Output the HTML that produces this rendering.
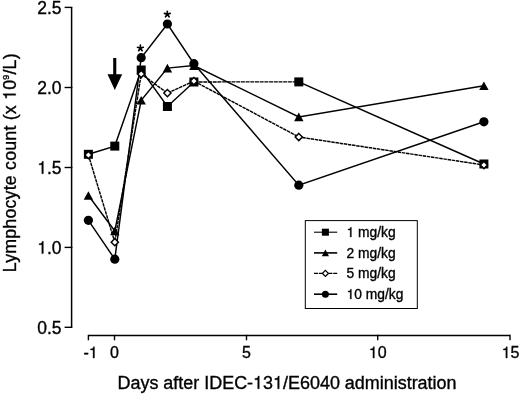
<!DOCTYPE html>
<html><head><meta charset="utf-8"><title>Lymphocyte count</title>
<style>
html,body{margin:0;padding:0;background:#fff;width:520px;height:394px;overflow:hidden}
svg{display:block;will-change:transform}
text{font-family:"Liberation Sans",sans-serif;fill:#000;stroke:#000;stroke-width:0.35px}
.h1{fill:none;stroke:none}
.one path{fill:#000;stroke:#000}
</style></head><body>
<svg width="520" height="394" viewBox="0 0 520 394">

<path d="M71.6,7.4V327.3" stroke="#000" stroke-width="1.5" fill="none"/>
<path d="M64.6,7.4H72.35" stroke="#000" stroke-width="1.4" fill="none"/>
<path d="M64.6,87.5H72.35" stroke="#000" stroke-width="1.4" fill="none"/>
<path d="M64.6,167.5H72.35" stroke="#000" stroke-width="1.4" fill="none"/>
<path d="M64.6,247.4H72.35" stroke="#000" stroke-width="1.4" fill="none"/>
<path d="M64.6,327.3H72.35" stroke="#000" stroke-width="1.4" fill="none"/>
<path d="M88.4,335.5H510.0" stroke="#000" stroke-width="1.5" fill="none"/>
<path d="M88.4,334.8V340.3" stroke="#000" stroke-width="1.4" fill="none"/>
<path d="M114.5,334.8V340.3" stroke="#000" stroke-width="1.4" fill="none"/>
<path d="M246.5,334.8V340.3" stroke="#000" stroke-width="1.4" fill="none"/>
<path d="M377.7,334.8V340.3" stroke="#000" stroke-width="1.4" fill="none"/>
<path d="M510.0,334.8V340.3" stroke="#000" stroke-width="1.4" fill="none"/>
<polyline points="88.4,154.3 114.8,146.1 141.2,70.0 167.4,106.5 193.9,82.0" fill="none" stroke="#000" stroke-width="1.45"/>
<path d="M193.9,82.0L298.8,81.9" fill="none" stroke="#000" stroke-width="1.3" stroke-dasharray="4 0.7"/>
<path d="M298.8,81.9L483.9,164.0" fill="none" stroke="#000" stroke-width="1.45"/>
<polyline points="88.4,195.5 114.8,231.0 141.2,100.3 167.4,68.1 193.9,65.6 298.8,116.9 483.9,85.8" fill="none" stroke="#000" stroke-width="1.45"/>
<polyline points="88.4,220.3 114.8,259.2 141.2,57.7 167.4,24.0 193.9,63.7 298.8,185.2 483.9,121.8" fill="none" stroke="#000" stroke-width="1.45"/>
<polyline points="88.4,155.0 114.8,242.2 141.2,74.0 167.4,93.1 193.9,81.1 298.8,137.0 483.9,165.0" fill="none" stroke="#000" stroke-width="1.45" stroke-dasharray="3.5 0.7"/>
<rect x="83.90" y="149.80" width="9.00" height="9.00" fill="#000"/>
<rect x="110.30" y="141.60" width="9.00" height="9.00" fill="#000"/>
<rect x="136.70" y="65.50" width="9.00" height="9.00" fill="#000"/>
<rect x="162.90" y="102.00" width="9.00" height="9.00" fill="#000"/>
<rect x="189.40" y="77.50" width="9.00" height="9.00" fill="#000"/>
<rect x="294.30" y="77.40" width="9.00" height="9.00" fill="#000"/>
<rect x="479.40" y="159.50" width="9.00" height="9.00" fill="#000"/>
<polygon points="88.40,191.20 93.10,199.80 83.70,199.80" fill="#000"/>
<polygon points="114.80,226.70 119.50,235.30 110.10,235.30" fill="#000"/>
<polygon points="141.20,96.00 145.90,104.60 136.50,104.60" fill="#000"/>
<polygon points="167.40,63.80 172.10,72.40 162.70,72.40" fill="#000"/>
<polygon points="193.90,61.30 198.60,69.90 189.20,69.90" fill="#000"/>
<polygon points="298.80,112.60 303.50,121.20 294.10,121.20" fill="#000"/>
<polygon points="483.90,81.50 488.60,90.10 479.20,90.10" fill="#000"/>
<circle cx="88.40" cy="220.30" r="4.6" fill="#000"/>
<circle cx="114.80" cy="259.20" r="4.6" fill="#000"/>
<circle cx="141.20" cy="57.70" r="4.6" fill="#000"/>
<circle cx="167.40" cy="24.00" r="4.6" fill="#000"/>
<circle cx="193.90" cy="63.70" r="4.6" fill="#000"/>
<circle cx="298.80" cy="185.20" r="4.6" fill="#000"/>
<circle cx="483.90" cy="121.80" r="4.6" fill="#000"/>
<polygon points="88.40,151.40 92.00,155.00 88.40,158.60 84.80,155.00" fill="#fff" stroke="#000" stroke-width="1.45"/>
<polygon points="114.80,238.60 118.40,242.20 114.80,245.80 111.20,242.20" fill="#fff" stroke="#000" stroke-width="1.45"/>
<polygon points="141.20,70.40 144.80,74.00 141.20,77.60 137.60,74.00" fill="#fff" stroke="#000" stroke-width="1.45"/>
<polygon points="167.40,89.50 171.00,93.10 167.40,96.70 163.80,93.10" fill="#fff" stroke="#000" stroke-width="1.45"/>
<polygon points="193.90,77.50 197.50,81.10 193.90,84.70 190.30,81.10" fill="#fff" stroke="#000" stroke-width="1.45"/>
<polygon points="298.80,133.40 302.40,137.00 298.80,140.60 295.20,137.00" fill="#fff" stroke="#000" stroke-width="1.45"/>
<polygon points="483.90,161.40 487.50,165.00 483.90,168.60 480.30,165.00" fill="#fff" stroke="#000" stroke-width="1.45"/>
<path d="M140.40,48.20L140.40,45.20M140.40,48.20L143.25,47.27M140.40,48.20L142.16,50.63M140.40,48.20L138.64,50.63M140.40,48.20L137.55,47.27" stroke="#000" stroke-width="1.7" stroke-linecap="round" fill="none"/>
<path d="M167.30,14.30L167.30,11.30M167.30,14.30L170.15,13.37M167.30,14.30L169.06,16.73M167.30,14.30L165.54,16.73M167.30,14.30L164.45,13.37" stroke="#000" stroke-width="1.7" stroke-linecap="round" fill="none"/>
<rect x="113.2" y="58" width="3.1" height="18" fill="#000"/>
<polygon points="107.5,74.3 122.2,74.3 114.8,90" fill="#000"/>
<rect x="305.3" y="220.6" width="112" height="87.9" fill="none" stroke="#000" stroke-width="1"/>
<path d="M314,232.2H337.2" stroke="#000" stroke-width="1.1"/>
<rect x="321.90" y="228.70" width="7.00" height="7.00" fill="#000"/>
<path d="M314,252.9H337.2" stroke="#000" stroke-width="1.6"/>
<polygon points="325.40,249.60 329.00,256.20 321.80,256.20" fill="#000"/>
<path d="M314,273.4H337.2" stroke="#000" stroke-width="1.1" stroke-dasharray="4 0.8"/>
<polygon points="325.40,270.40 328.40,273.40 325.40,276.40 322.40,273.40" fill="#fff" stroke="#000" stroke-width="1.3"/>
<path d="M314,294.2H337.2" stroke="#000" stroke-width="1.6"/>
<circle cx="325.40" cy="294.20" r="3.5" fill="#000"/>
<text id="t0" x="61.60" y="13.60" font-size="17.5" text-anchor="end">2.5</text>
<text id="t1" x="61.60" y="93.70" font-size="17.5" text-anchor="end">2.0</text>
<text id="t2" x="61.60" y="173.70" font-size="17.5" text-anchor="end"><tspan class="h1">1</tspan>.5</text>
<g class="one"><path transform="translate(37.27,173.70) scale(0.01750,-0.01750)" d="M347 0V709H289C258 600 238 585 102 568V505H259V0Z" stroke-width="20.00"/></g>
<text id="t3" x="61.60" y="253.60" font-size="17.5" text-anchor="end"><tspan class="h1">1</tspan>.0</text>
<g class="one"><path transform="translate(37.27,253.60) scale(0.01750,-0.01750)" d="M347 0V709H289C258 600 238 585 102 568V505H259V0Z" stroke-width="20.00"/></g>
<text id="t4" x="61.60" y="333.50" font-size="17.5" text-anchor="end">0.5</text>
<text id="t5" x="90.70" y="358.00" font-size="16" text-anchor="middle">-<tspan class="h1">1</tspan></text>
<g class="one"><path transform="translate(88.91,358.00) scale(0.01600,-0.01600)" d="M347 0V709H289C258 600 238 585 102 568V505H259V0Z" stroke-width="21.87"/></g>
<text id="t6" x="114.50" y="358.00" font-size="16" text-anchor="middle">0</text>
<text id="t7" x="246.50" y="358.00" font-size="16" text-anchor="middle">5</text>
<text id="t8" x="377.70" y="358.00" font-size="16" text-anchor="middle"><tspan class="h1">1</tspan>0</text>
<g class="one"><path transform="translate(368.80,358.00) scale(0.01600,-0.01600)" d="M347 0V709H289C258 600 238 585 102 568V505H259V0Z" stroke-width="21.87"/></g>
<text id="t9" x="510.60" y="358.00" font-size="16" text-anchor="middle"><tspan class="h1">1</tspan>5</text>
<g class="one"><path transform="translate(501.70,358.00) scale(0.01600,-0.01600)" d="M347 0V709H289C258 600 238 585 102 568V505H259V0Z" stroke-width="21.87"/></g>
<text id="t10" x="117.50" y="388.80" font-size="17.95">Days after IDEC-<tspan class="h1">1</tspan>3<tspan class="h1">1</tspan>/E6040 administration</text>
<g class="one"><path transform="translate(253.05,388.80) scale(0.01795,-0.01795)" d="M347 0V709H289C258 600 238 585 102 568V505H259V0Z" stroke-width="19.50"/><path transform="translate(273.00,388.80) scale(0.01795,-0.01795)" d="M347 0V709H289C258 600 238 585 102 568V505H259V0Z" stroke-width="19.50"/></g>
<text id="t11" x="0.00" y="0.00" font-size="17.8" transform="translate(15.7,272.3) rotate(-90)" letter-spacing="0.2">Lymphocyte count (x <tspan class="h1">1</tspan>0<tspan font-size="9" dy="-6.9">9</tspan><tspan dy="6.9">/L)</tspan></text>
<g transform="translate(15.7,272.3) rotate(-90)"><g class="one"><path transform="translate(172.33,0.00) scale(0.01780,-0.01780)" d="M347 0V709H289C258 600 238 585 102 568V505H259V0Z" stroke-width="19.66"/></g></g>
<text id="t12" x="346.60" y="237.00" font-size="13.8"><tspan class="h1">1</tspan> mg/kg</text>
<g class="one"><path transform="translate(346.60,237.00) scale(0.01380,-0.01380)" d="M347 0V709H289C258 600 238 585 102 568V505H259V0Z" stroke-width="25.36"/></g>
<text id="t13" x="346.60" y="257.70" font-size="13.8">2 mg/kg</text>
<text id="t14" x="346.60" y="278.20" font-size="13.8">5 mg/kg</text>
<text id="t15" x="346.60" y="299.00" font-size="13.8"><tspan class="h1">1</tspan>0 mg/kg</text>
<g class="one"><path transform="translate(346.60,299.00) scale(0.01380,-0.01380)" d="M347 0V709H289C258 600 238 585 102 568V505H259V0Z" stroke-width="25.36"/></g>
</svg></body></html>
